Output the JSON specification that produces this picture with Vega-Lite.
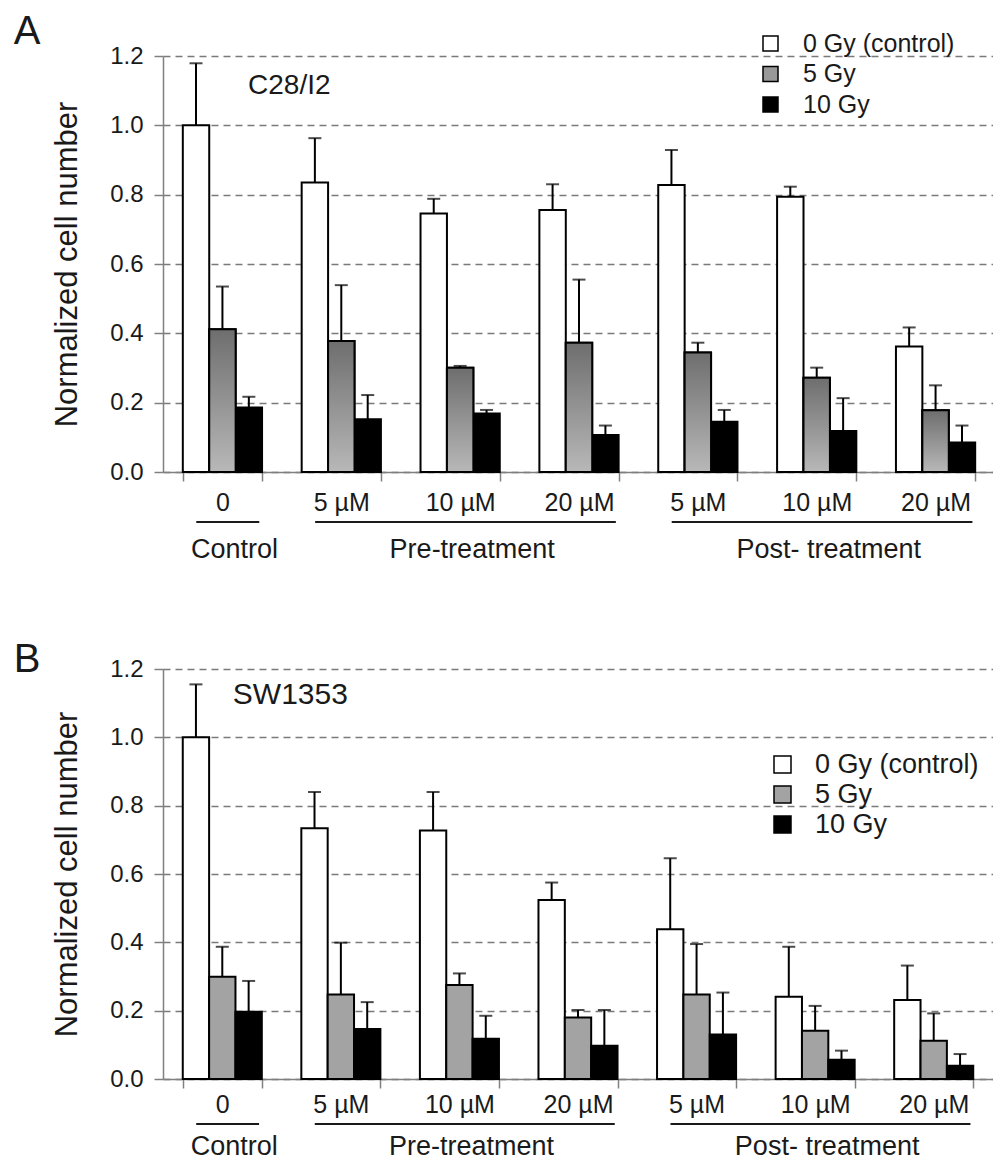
{
  "$schema": "https://vega.github.io/schema/vega-lite/v6.json",
  "background": "white",
  "padding": {"left": 13, "top": 12, "right": 0, "bottom": 0},
  "spacing": 77,
  "config": {
    "font": "Liberation Sans",
    "view": {"stroke": null},
    "axis": {
      "domainColor": "#808080",
      "domainWidth": 1.5,
      "tickColor": "#808080",
      "tickWidth": 1.5,
      "tickSize": 9,
      "labelColor": "#1a1a1a",
      "titleColor": "#1a1a1a",
      "titleFontWeight": "normal",
      "labelFont": "Liberation Sans",
      "titleFont": "Liberation Sans"
    },
    "title": {"font": "Liberation Sans", "fontWeight": "normal", "color": "#1a1a1a"},
    "legend": {"labelFont": "Liberation Sans", "labelColor": "#1a1a1a", "labelLimit": 400}
  },
  "resolve": {
    "scale": {"fill": "independent", "xOffset": "independent"},
    "legend": {"fill": "independent"}
  },
  "datasets": {
    "A": [
      {"cond": "Control|0", "dose": "0 Gy (control)", "value": 1.0, "hi": 1.179},
      {"cond": "Control|0", "dose": "5 Gy", "value": 0.412, "hi": 0.535},
      {"cond": "Control|0", "dose": "10 Gy", "value": 0.186, "hi": 0.217},
      {"cond": "Pre|5 µM", "dose": "0 Gy (control)", "value": 0.835, "hi": 0.963},
      {"cond": "Pre|5 µM", "dose": "5 Gy", "value": 0.378, "hi": 0.539},
      {"cond": "Pre|5 µM", "dose": "10 Gy", "value": 0.152, "hi": 0.222},
      {"cond": "Pre|10 µM", "dose": "0 Gy (control)", "value": 0.746, "hi": 0.788},
      {"cond": "Pre|10 µM", "dose": "5 Gy", "value": 0.301, "hi": 0.306},
      {"cond": "Pre|10 µM", "dose": "10 Gy", "value": 0.169, "hi": 0.179},
      {"cond": "Pre|20 µM", "dose": "0 Gy (control)", "value": 0.756, "hi": 0.83},
      {"cond": "Pre|20 µM", "dose": "5 Gy", "value": 0.373, "hi": 0.555},
      {"cond": "Pre|20 µM", "dose": "10 Gy", "value": 0.107, "hi": 0.134},
      {"cond": "Post|5 µM", "dose": "0 Gy (control)", "value": 0.828, "hi": 0.929},
      {"cond": "Post|5 µM", "dose": "5 Gy", "value": 0.345, "hi": 0.373},
      {"cond": "Post|5 µM", "dose": "10 Gy", "value": 0.145, "hi": 0.179},
      {"cond": "Post|10 µM", "dose": "0 Gy (control)", "value": 0.794, "hi": 0.823},
      {"cond": "Post|10 µM", "dose": "5 Gy", "value": 0.272, "hi": 0.301},
      {"cond": "Post|10 µM", "dose": "10 Gy", "value": 0.118, "hi": 0.213},
      {"cond": "Post|20 µM", "dose": "0 Gy (control)", "value": 0.362, "hi": 0.417},
      {"cond": "Post|20 µM", "dose": "5 Gy", "value": 0.178, "hi": 0.25},
      {"cond": "Post|20 µM", "dose": "10 Gy", "value": 0.085, "hi": 0.134}
    ],
    "B": [
      {"cond": "Control|0", "dose": "0 Gy (control)", "value": 1.0, "hi": 1.155},
      {"cond": "Control|0", "dose": "5 Gy", "value": 0.299, "hi": 0.387},
      {"cond": "Control|0", "dose": "10 Gy", "value": 0.197, "hi": 0.287},
      {"cond": "Pre|5 µM", "dose": "0 Gy (control)", "value": 0.734, "hi": 0.84},
      {"cond": "Pre|5 µM", "dose": "5 Gy", "value": 0.247, "hi": 0.399},
      {"cond": "Pre|5 µM", "dose": "10 Gy", "value": 0.146, "hi": 0.225},
      {"cond": "Pre|10 µM", "dose": "0 Gy (control)", "value": 0.727, "hi": 0.84},
      {"cond": "Pre|10 µM", "dose": "5 Gy", "value": 0.275, "hi": 0.309},
      {"cond": "Pre|10 µM", "dose": "10 Gy", "value": 0.118, "hi": 0.185},
      {"cond": "Pre|20 µM", "dose": "0 Gy (control)", "value": 0.524, "hi": 0.575},
      {"cond": "Pre|20 µM", "dose": "5 Gy", "value": 0.18, "hi": 0.202},
      {"cond": "Pre|20 µM", "dose": "10 Gy", "value": 0.097, "hi": 0.202},
      {"cond": "Post|5 µM", "dose": "0 Gy (control)", "value": 0.438, "hi": 0.646},
      {"cond": "Post|5 µM", "dose": "5 Gy", "value": 0.247, "hi": 0.395},
      {"cond": "Post|5 µM", "dose": "10 Gy", "value": 0.13, "hi": 0.253},
      {"cond": "Post|10 µM", "dose": "0 Gy (control)", "value": 0.241, "hi": 0.387},
      {"cond": "Post|10 µM", "dose": "5 Gy", "value": 0.141, "hi": 0.214},
      {"cond": "Post|10 µM", "dose": "10 Gy", "value": 0.056, "hi": 0.083},
      {"cond": "Post|20 µM", "dose": "0 Gy (control)", "value": 0.231, "hi": 0.332},
      {"cond": "Post|20 µM", "dose": "5 Gy", "value": 0.112, "hi": 0.192},
      {"cond": "Post|20 µM", "dose": "10 Gy", "value": 0.039, "hi": 0.073}
    ],
    "groups": [
      {"group": "Control", "first": "Control|0", "mid": "Control|0", "last": "Control|0"},
      {"group": "Pre-treatment", "first": "Pre|5 µM", "mid": "Pre|10 µM", "last": "Pre|20 µM"},
      {"group": "Post- treatment", "first": "Post|5 µM", "mid": "Post|10 µM", "last": "Post|20 µM"}
    ],
    "cellA": [{"cell": "C28/I2"}],
    "cellB": [{"cell": "SW1353"}]
  },
  "vconcat": [
    {
      "title": {"text": "A", "anchor": "start", "frame": "bounds", "fontSize": 40, "dx": -38, "offset": -21},
      "width": 832,
      "height": 416,
      "layer": [
        {
          "data": {"name": "A"},
          "mark": {"type": "bar", "stroke": "black", "strokeWidth": 2},
          "encoding": {
            "x": {
              "field": "cond", "type": "nominal", "title": null,
              "scale": {"domain": ["Control|0", "Pre|5 µM", "Pre|10 µM", "Pre|20 µM", "Post|5 µM", "Post|10 µM", "Post|20 µM"], "paddingInner": 0.3333, "paddingOuter": 0.1667},
              "axis": {"labelExpr": "split(datum.value, '|')[1]", "tickBand": "extent", "labelAngle": 0, "labelFontSize": 25, "labelPadding": 21, "labelBaseline": "middle", "labelOverlap": false, "grid": false}
            },
            "xOffset": {"field": "dose", "type": "nominal", "scale": {"domain": ["0 Gy (control)", "5 Gy", "10 Gy"], "paddingInner": 0, "paddingOuter": 0}},
            "y": {
              "field": "value", "type": "quantitative", "title": "Normalized cell number",
              "scale": {"domain": [0, 1.2], "nice": false},
              "axis": {"values": [0, 0.2, 0.4, 0.6, 0.8, 1.0, 1.2], "format": ".1f", "grid": true, "gridDash": [7, 5], "gridColor": "#7a7a7a", "gridWidth": 1.6, "labelFontSize": 24, "labelPadding": 11, "titleFontSize": 31, "titlePadding": 26}
            },
            "fill": {
              "field": "dose", "type": "nominal",
              "scale": {"domain": ["0 Gy (control)", "5 Gy", "10 Gy"], "range": ["white", "#999999", "black"]},
              "legend": {"orient": "none", "legendX": 595, "legendY": -25, "title": null, "symbolType": "square", "symbolSize": 225, "symbolStrokeColor": "black", "symbolStrokeWidth": 1.5, "labelFontSize": 25, "labelOffset": 20, "rowPadding": 4.5, "padding": 0}
            }
          }
        },
        {
          "data": {"name": "A"},
          "transform": [{"filter": "datum.dose === '5 Gy'"}],
          "mark": {"type": "bar", "stroke": "black", "strokeWidth": 2, "fill": {"gradient": "linear", "x1": 0, "y1": 0, "x2": 0, "y2": 1, "stops": [{"offset": 0, "color": "#6e6e6e"}, {"offset": 1, "color": "#b8b8b8"}]}},
          "encoding": {
            "x": {"field": "cond", "type": "nominal"},
            "xOffset": {"field": "dose", "type": "nominal"},
            "y": {"field": "value", "type": "quantitative"}
          }
        },
        {
          "data": {"name": "A"},
          "mark": {"type": "rule", "color": "black", "strokeWidth": 2},
          "encoding": {
            "x": {"field": "cond", "type": "nominal"},
            "xOffset": {"field": "dose", "type": "nominal"},
            "y": {"field": "value", "type": "quantitative"},
            "y2": {"field": "hi"}
          }
        },
        {
          "data": {"name": "A"},
          "mark": {"type": "tick", "color": "black", "size": 13, "thickness": 2},
          "encoding": {
            "x": {"field": "cond", "type": "nominal"},
            "xOffset": {"field": "dose", "type": "nominal"},
            "y": {"field": "hi", "type": "quantitative"}
          }
        },
        {
          "data": {"name": "cellA"},
          "mark": {"type": "text", "align": "left", "baseline": "middle", "fontSize": 28, "dx": -14, "color": "#1a1a1a"},
          "encoding": {
            "x": {"datum": "Control|0", "type": "nominal", "bandPosition": 1},
            "y": {"datum": 1.113, "type": "quantitative"},
            "text": {"field": "cell"}
          }
        },
        {
          "data": {"name": "groups"},
          "mark": {"type": "rule", "color": "#1a1a1a", "strokeWidth": 2},
          "encoding": {
            "x": {"field": "first", "type": "nominal", "bandPosition": 0.17},
            "x2": {"field": "last", "bandPosition": 0.965},
            "y": {"datum": -0.144, "type": "quantitative"}
          }
        },
        {
          "data": {"name": "groups"},
          "mark": {"type": "text", "align": "center", "baseline": "middle", "fontSize": 27, "dx": 12, "color": "#1a1a1a"},
          "encoding": {
            "x": {"field": "mid", "type": "nominal"},
            "y": {"datum": -0.225, "type": "quantitative"},
            "text": {"field": "group"}
          }
        }
      ]
    },
    {
      "title": {"text": "B", "anchor": "start", "frame": "bounds", "fontSize": 40, "dx": -38, "offset": -23},
      "width": 830,
      "height": 410,
      "layer": [
        {
          "data": {"name": "B"},
          "mark": {"type": "bar", "stroke": "black", "strokeWidth": 2},
          "encoding": {
            "x": {
              "field": "cond", "type": "nominal", "title": null,
              "scale": {"domain": ["Control|0", "Pre|5 µM", "Pre|10 µM", "Pre|20 µM", "Post|5 µM", "Post|10 µM", "Post|20 µM"], "paddingInner": 0.3333, "paddingOuter": 0.1667},
              "axis": {"labelExpr": "split(datum.value, '|')[1]", "tickBand": "extent", "labelAngle": 0, "labelFontSize": 25, "labelPadding": 16, "labelBaseline": "middle", "labelOverlap": false, "grid": false}
            },
            "xOffset": {"field": "dose", "type": "nominal", "scale": {"domain": ["0 Gy (control)", "5 Gy", "10 Gy"], "paddingInner": 0, "paddingOuter": 0}},
            "y": {
              "field": "value", "type": "quantitative", "title": "Normalized cell number",
              "scale": {"domain": [0, 1.2], "nice": false},
              "axis": {"values": [0, 0.2, 0.4, 0.6, 0.8, 1.0, 1.2], "format": ".1f", "grid": true, "gridDash": [7, 5], "gridColor": "#7a7a7a", "gridWidth": 1.6, "labelFontSize": 24, "labelPadding": 11, "titleFontSize": 31, "titlePadding": 26}
            },
            "fill": {
              "field": "dose", "type": "nominal",
              "scale": {"domain": ["0 Gy (control)", "5 Gy", "10 Gy"], "range": ["white", "#a3a3a3", "black"]},
              "legend": {"orient": "none", "legendX": 606, "legendY": 82, "title": null, "symbolType": "square", "symbolSize": 289, "symbolStrokeColor": "black", "symbolStrokeWidth": 1.5, "labelFontSize": 27, "labelOffset": 19, "rowPadding": 2, "padding": 0}
            }
          }
        },
        {
          "data": {"name": "B"},
          "mark": {"type": "rule", "color": "black", "strokeWidth": 2},
          "encoding": {
            "x": {"field": "cond", "type": "nominal"},
            "xOffset": {"field": "dose", "type": "nominal"},
            "y": {"field": "value", "type": "quantitative"},
            "y2": {"field": "hi"}
          }
        },
        {
          "data": {"name": "B"},
          "mark": {"type": "tick", "color": "black", "size": 13, "thickness": 2},
          "encoding": {
            "x": {"field": "cond", "type": "nominal"},
            "xOffset": {"field": "dose", "type": "nominal"},
            "y": {"field": "hi", "type": "quantitative"}
          }
        },
        {
          "data": {"name": "cellB"},
          "mark": {"type": "text", "align": "left", "baseline": "middle", "fontSize": 30, "dx": -29, "color": "#1a1a1a"},
          "encoding": {
            "x": {"datum": "Control|0", "type": "nominal", "bandPosition": 1},
            "y": {"datum": 1.124, "type": "quantitative"},
            "text": {"field": "cell"}
          }
        },
        {
          "data": {"name": "groups"},
          "mark": {"type": "rule", "color": "#1a1a1a", "strokeWidth": 2},
          "encoding": {
            "x": {"field": "first", "type": "nominal", "bandPosition": 0.17},
            "x2": {"field": "last", "bandPosition": 0.965},
            "y": {"datum": -0.132, "type": "quantitative"}
          }
        },
        {
          "data": {"name": "groups"},
          "mark": {"type": "text", "align": "center", "baseline": "middle", "fontSize": 27, "dx": 12, "color": "#1a1a1a"},
          "encoding": {
            "x": {"field": "mid", "type": "nominal"},
            "y": {"datum": -0.2, "type": "quantitative"},
            "text": {"field": "group"}
          }
        }
      ]
    }
  ]
}
